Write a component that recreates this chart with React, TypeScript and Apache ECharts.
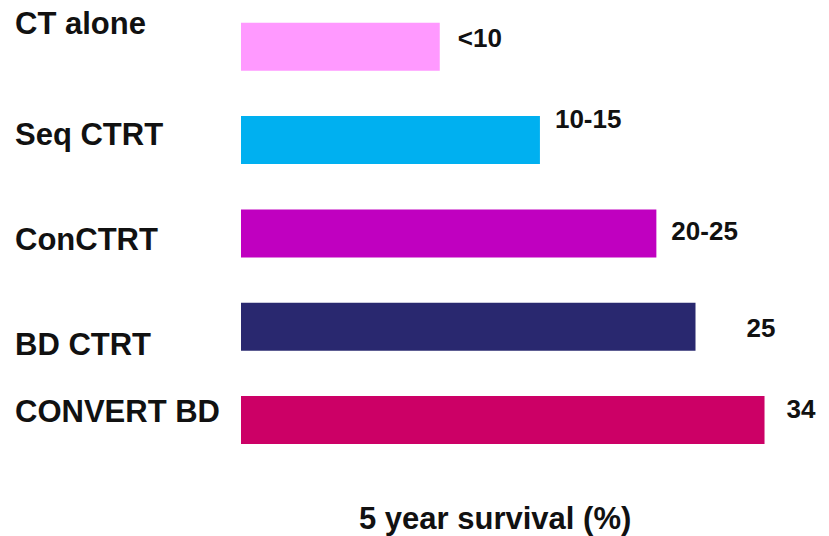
import React, { useEffect, useRef } from "react";
import * as echarts from "echarts";

// Treatment strategies, top to bottom
const strategies = ["CT alone", "Seq CTRT", "ConCTRT", "BD CTRT", "CONVERT BD"];
// Five-year survival (%) used for bar length
const survival = [8, 12.5, 21, 25, 34];
// Survival as reported next to each bar
const survivalText = ["<10", "10-15", "20-25", "25", "34"];
const barColors = ["#FF99FF", "#00B0F0", "#C000C0", "#29286F", "#CC0066"];

const FONT = "'Liberation Sans', Arial, Helvetica, sans-serif";

// small vertical nudges for the strategy names (px, negative = up)
const nameShift = [-23, -6, 6, 18, -9];
// value label nudges [dx, dy]
const valueShift: [number, number][] = [
  [18, -9],
  [15, -21],
  [15, -2],
  [51, 1],
  [22, -11],
];

export default function App() {
  const ref = useRef<HTMLDivElement>(null);

  useEffect(() => {
    if (!ref.current) return;
    const chart = echarts.init(ref.current, undefined, { renderer: "svg" });

    const rich: Record<string, any> = {};
    nameShift.forEach((d, i) => {
      rich["n" + i] = {
        fontFamily: FONT,
        fontWeight: "bold",
        fontSize: 31,
        color: "#111111",
        padding: d < 0 ? [0, 0, -2 * d, 0] : [2 * d, 0, 0, 0],
      };
    });

    chart.setOption({
      animation: false,
      backgroundColor: "#ffffff",
      title: {
        text: "5 year survival (%)",
        left: 359,
        top: 503,
        padding: 0,
        textStyle: {
          fontFamily: FONT,
          fontWeight: "bold",
          fontSize: 31,
          color: "#111111",
        },
      },
      grid: { left: 241, right: 28, top: -2.6, bottom: 69.2, containLabel: false },
      xAxis: {
        type: "log",
        min: 3.3,
        max: 40,
        startValue: 3.3,
        show: false,
      },
      yAxis: {
        type: "category",
        inverse: true,
        data: strategies,
        axisLine: { show: false },
        axisTick: { show: false },
        splitLine: { show: false },
        axisLabel: {
          align: "left",
          margin: 226,
          formatter: (v: string, i: number) => `{n${i}|${v}}`,
          rich,
        },
      },
      series: [
        {
          type: "bar",
          clip: true,
          barWidth: 48,
          data: survival.map((v, i) => ({
            value: v,
            itemStyle: { color: barColors[i] },
            label: {
              show: true,
              position: "right",
              distance: 0,
              offset: valueShift[i],
              formatter: survivalText[i],
              fontFamily: FONT,
              fontWeight: "bold",
              fontSize: 26,
              color: "#111111",
            },
          })),
        },
      ],
    });

    return () => chart.dispose();
  }, []);

  return (
    <div
      ref={ref}
      style={{ position: "absolute", left: 0, top: 0, width: 829, height: 536 }}
    />
  );
}
